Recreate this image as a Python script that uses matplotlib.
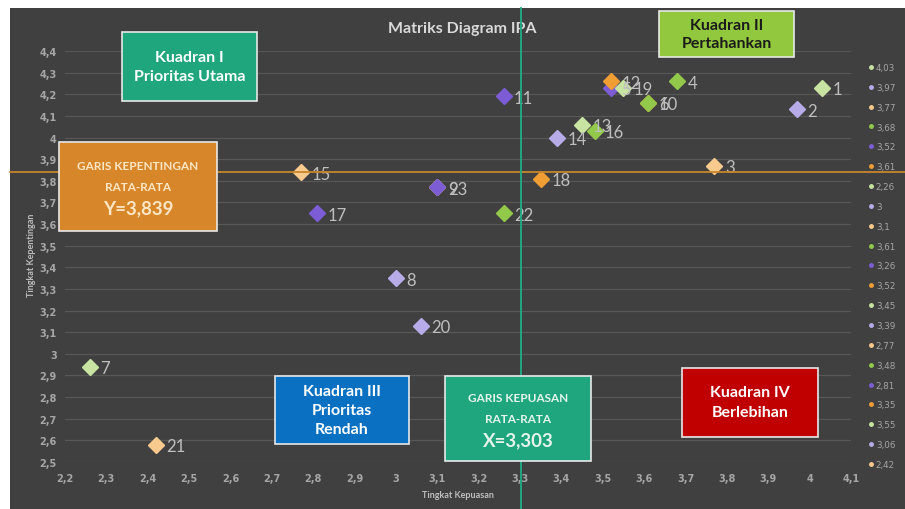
import matplotlib
matplotlib.use("Agg")
import matplotlib.pyplot as plt
from matplotlib.patches import Rectangle
from matplotlib.lines import Line2D
from matplotlib.ticker import FuncFormatter, MultipleLocator
import matplotlib.transforms as mtransforms

# ---------------- data ----------------
labels = [str(i) for i in range(1, 24)]
kepuasan = [4.03, 3.97, 3.77, 3.68, 3.52, 3.61, 2.26, 3.00, 3.10, 3.61, 3.26, 3.52,
            3.45, 3.39, 2.77, 3.48, 2.81, 3.35, 3.55, 3.06, 2.42, 3.26, 3.10]
kepentingan = [4.23, 4.13, 3.87, 4.26, 4.23, 4.16, 2.94, 3.35, 3.77, 4.16, 4.19, 4.26,
               4.06, 4.00, 3.84, 4.03, 3.65, 3.81, 4.23, 3.13, 2.58, 3.65, 3.77]
palette = ["#c8e3a2", "#b8ace8", "#f8ca8e", "#93c94b", "#7d5dd6", "#f09d34"]
mean_x = 3.303
mean_y = 3.839
legend_count = 21

W, H = 905, 510
fig = plt.figure(figsize=(W / 100, H / 100), dpi=100)
fig.patch.set_facecolor("white")
BG = "#404040"
fig.patches.append(Rectangle((10 / W, 0), 1 - 10 / W, (H - 9) / H, transform=fig.transFigure,
                             facecolor=BG, edgecolor="none", zorder=-10))

ax = fig.add_axes([65 / W, (H - 463) / H, (851 - 65) / W, (463 - 52) / H])
ax.set_facecolor(BG)
ax.set_xlim(2.2, 4.1)
ax.set_ylim(2.5, 4.4)
ax.xaxis.set_major_locator(MultipleLocator(0.1))
ax.yaxis.set_major_locator(MultipleLocator(0.1))
fmt = FuncFormatter(lambda v, p: ("%.1f" % v).rstrip("0").rstrip(".").replace(".", ","))
ax.xaxis.set_major_formatter(fmt)
ax.yaxis.set_major_formatter(fmt)
for s in ax.spines.values():
    s.set_visible(False)
ax.tick_params(length=0, colors="#a6a6a6", labelsize=7)
ax.tick_params(axis="x", pad=8)
ax.tick_params(axis="y", pad=6)
for t in ax.get_xticklabels() + ax.get_yticklabels():
    t.set_fontweight("bold")
ax.grid(axis="y", color="#575757", linewidth=0.9)
ax.set_axisbelow(True)

handles = []
for i, (xv, yv) in enumerate(zip(kepuasan, kepentingan)):
    c = palette[i % 6]
    ax.plot([xv], [yv], marker="D", markersize=8.5, color=c, markeredgecolor=c,
            linestyle="none", zorder=5)
    ax.annotate(labels[i], (xv, yv), xytext=(7.5, -1), textcoords="offset points",
                va="center", ha="left", fontsize=12, color="#bfbfbf",
                family="Lato", zorder=6)
    if i < legend_count:
        handles.append(Line2D([], [], marker="o", markersize=2.5, color=c, linestyle="none",
                              label=("%.2f" % xv).rstrip("0").rstrip(".").replace(".", ",")))

# mean lines across entire chart area
trh = mtransforms.blended_transform_factory(fig.transFigure, ax.transData)
fig.lines.append(Line2D([10 / W, 1], [mean_y, mean_y], transform=trh, color="#c8862a",
                        linewidth=1.3, zorder=4))
trv = mtransforms.blended_transform_factory(ax.transData, fig.transFigure)
fig.lines.append(Line2D([mean_x, mean_x], [0, (H - 9) / H], transform=trv, color="#1fae86",
                        linewidth=1.3, zorder=4))

leg = fig.legend(handles=handles, loc="upper left", bbox_to_anchor=(868 / W, (H - 64) / H),
                 frameon=False, fontsize=6.3, labelcolor="#a6a6a6", handlelength=0.6,
                 handletextpad=0.3, labelspacing=1.24, borderpad=0, borderaxespad=0)

# title and axis labels
fig.text(462 / W, (H - 29) / H, "Matriks Diagram IPA", ha="center", va="center",
         fontsize=11.5, fontweight="bold", color="#d9d9d9", family="Lato")
fig.text(31 / W, (H - 255) / H, "Tingkat Kepentingan", rotation=90, ha="center", va="center",
         fontsize=6.5, fontweight="bold", color="#bfbfbf", family="Lato")
fig.text(458 / W, (H - 496) / H, "Tingkat Kepuasan", ha="center", va="center",
         fontsize=6.5, fontweight="bold", color="#bfbfbf", family="Lato")


def box(x0, y0, x1, y1, fc, lines, tc, sizes, family="Lato", weight="bold",
        spacing=None):
    fig.patches.append(Rectangle((x0 / W, (H - y1) / H), (x1 - x0) / W, (y1 - y0) / H,
                                 transform=fig.transFigure, facecolor=fc,
                                 edgecolor="#e8e8e8", linewidth=1.2, zorder=8))
    n = len(lines)
    cy = (y0 + y1) / 2
    step = spacing if spacing else 17
    for k, (ln, sz) in enumerate(zip(lines, sizes)):
        yy = cy + (k - (n - 1) / 2) * step
        fig.text((x0 + x1) / 2 / W, (H - yy) / H, ln, ha="center", va="center",
                 fontsize=sz, color=tc, family=family, fontweight=weight, zorder=9)


box(122, 33, 257, 102, "#20a67c", ["Kuadran I", "Prioritas Utama"], "white", [11.5, 11.5],
    spacing=19)
box(659, 12, 794, 58, "#92c83e", ["Kuadran II", "Pertahankan"], "#1a1a1a", [11.5, 11.5],
    spacing=18)
box(59, 143, 217, 232, "#d8862a", ["GARIS KEPENTINGAN", "RATA-RATA", "Y=3,839"],
    "#fbe7c6", [8.5, 8.5, 13.5], spacing=21)
box(275, 377, 409, 445, "#0a70c2", ["Kuadran III", "Prioritas", "Rendah"], "white",
    [11.5, 11.5, 11.5], spacing=19)
box(445, 377, 591, 462, "#1fa67f", ["GARIS KEPUASAN", "RATA-RATA", "X=3,303"],
    "#e6f4ec", [8.5, 8.5, 13.5], spacing=21)
box(682, 369, 818, 438, "#c00000", ["Kuadran IV", "Berlebihan"], "white", [11.5, 11.5],
    spacing=20)

fig.savefig("out.png", dpi=100, facecolor=fig.get_facecolor())
